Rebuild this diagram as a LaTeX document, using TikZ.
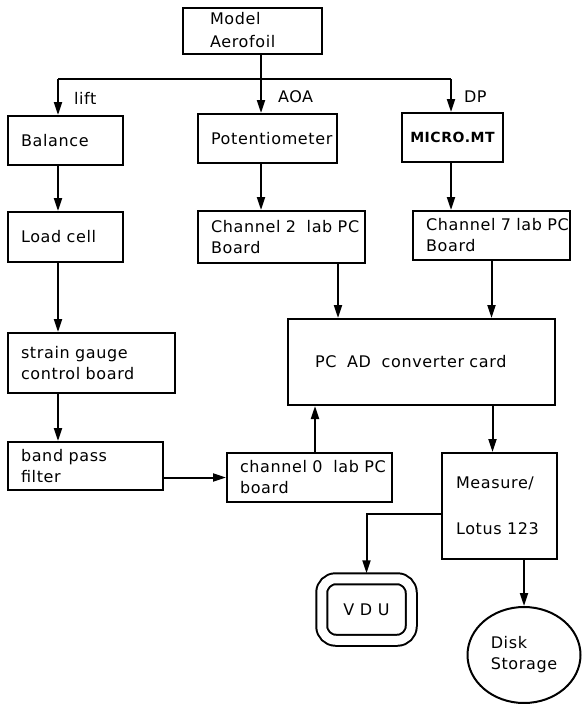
\documentclass[tikz,border=0pt]{standalone}
\usepackage{fontspec}
\newfontfamily\diagfont[LetterSpace=4]{DejaVu Sans}
\usetikzlibrary{arrows.meta,shapes.geometric}
\tikzset{every picture/.style={line width=2pt}}
\tikzset{
  blk/.style={draw, inner xsep=13pt, inner ysep=0pt, align=left, font=\diagfont\fontsize{16}{21}\selectfont},
  flow/.style={-{Triangle[length=13pt,width=8pt]}},
  lbl/.style={font=\diagfont\fontsize{16}{21}\selectfont, inner sep=0pt, anchor=west}
}
\begin{document}
\begin{tikzpicture}[x=1pt,y=-1pt]
\useasboundingbox (0,0) rectangle (583,704);
% top block and the three measured quantities
\node [blk, inner xsep=27pt, text width=85pt, minimum height=46pt] (aero) at (252.5,31) {\mbox{}\\[-10pt]Model\\[2pt]Aerofoil};
\coordinate (split) at (261,79);
\coordinate (liftc) at (58,79);
\coordinate (dpc) at (451,79);
\node [lbl] (liftlbl) at (73,98) {lift};
\node [lbl] (aoalbl) at (277,97) {AOA};
\node [lbl] (dplbl) at (463,97) {DP};
% lift chain
\node [blk, text width=89pt, minimum height=49pt] (balance) at (65.5,140.5) {Balance};
\node [blk, text width=89pt, minimum height=50pt] (load) at (65.5,237) {Load~cell};
\node [blk, text width=141pt, minimum height=60pt] (strain) at (91.5,363) {strain~gauge\\control~board};
\node [blk, text width=129pt, minimum height=48pt] (band) at (85.5,466) {band~pass\\filter};
\node [blk, text width=139pt, minimum height=49pt] (ch0) at (309.5,477.5) {channel~0~~lab~PC\\board};
% AOA chain
\node [blk, text width=113pt, minimum height=49pt] (pot) at (267.5,138.5) {Potentiometer};
\node [blk, text width=141pt, minimum height=52pt] (ch2) at (281.5,237) {Channel~2~~lab~PC\\Board};
% DP chain
\node [blk, inner xsep=4pt, text width=93pt, align=center, minimum height=49pt, font=\diagfont\bfseries\fontsize{14}{18}\selectfont] (mano) at (452.5,137.5) {MICRO.MT};
\node [blk, text width=131pt, minimum height=49pt] (ch7) at (491.5,235.5) {Channel~7~lab~PC\\Board};
% converter and outputs
\node [blk, inner xsep=27pt, text width=213pt, minimum height=86pt] (pcad) at (421.5,362) {PC~~AD~~converter~card};
\node [blk, inner xsep=14pt, text width=87pt, minimum height=106pt] (meas) at (499.5,506) {Measure/\\[25pt]Lotus~123};
\node [blk, double, double distance=9pt, rounded corners=14pt, outer sep=5.5pt, inner xsep=0pt, align=center, minimum width=89.5pt, minimum height=61.5pt] (vdu) at (366.5,609.5) {V~D~U};
\node [blk, ellipse, inner sep=0pt, minimum width=113pt, minimum height=96pt] (disk) at (524,655) {Disk\\Storage};
% connectors
\draw (aero.south -| split) -- (split);
\draw (liftc) -- (dpc);
\draw [flow] (liftc) -- (liftc |- balance.north);
\draw [flow] (split) -- (split |- pot.north);
\draw [flow] (dpc) -- (dpc |- mano.north);
\draw [flow] (balance.south -| liftc) -- (load.north -| liftc);
\draw [flow] (load.south -| liftc) -- (strain.north -| liftc);
\draw [flow] (strain.south -| liftc) -- (band.north -| liftc);
\draw [flow] (band.east |- ch0.west) -- (ch0.west);
\coordinate (ch0out) at ([xshift=5.5pt]ch0.north);
\draw [flow] (ch0out) -- (ch0out |- pcad.south);
\draw [flow] (pot.south -| split) -- (ch2.north -| split);
\coordinate (ch2out) at ([xshift=56.5pt]ch2.south);
\draw [flow] (ch2out) -- (ch2out |- pcad.north);
\draw [flow] (mano.south -| dpc) -- (ch7.north -| dpc);
\draw [flow] (ch7.south) -- (ch7.south |- pcad.north);
\coordinate (measin) at ([xshift=-7pt]meas.north);
\draw [flow] (measin |- pcad.south) -- (measin);
\coordinate (measout) at ([yshift=-8pt]meas.west);
\draw [flow] (measout) -| (vdu.north);
\draw [flow] (disk.north |- meas.south) -- (disk.north);
\end{tikzpicture}
\end{document}
